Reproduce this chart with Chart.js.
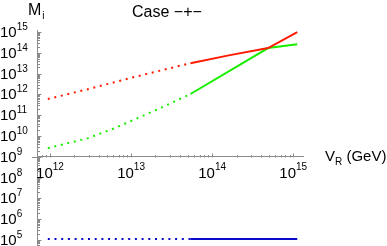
<!DOCTYPE html>
<html>
<head>
<meta charset="utf-8">
<script src="https://cdn.jsdelivr.net/npm/chart.js@4"></script>
<style>
  html, body { margin: 0; padding: 0; background: #fff; }
  .chart { width: 387px; height: 246px; position: relative; }
</style>
</head>
<body>
<div class="chart"><canvas id="c"></canvas></div>
<script>
// values (V_R in GeV, masses in GeV)
const redDotV = [9.4e11, 3.2e12, 1.0e13, 5.4e13];
const redDotM = [6.0e11, 1.95e12, 6.3e12, 3.2e13];
const redSolidV = [5.4e13, 1.66e14, 4.9e14, 1.12e15];
const redSolidM = [3.2e13, 7.8e13, 1.7e14, 1.0e15];

const greenDotV = [9.4e11, 2.95e12, 6.3e12, 2.3e13, 5.4e13];
const greenDotM = [2.6e9, 7.9e9, 2.4e10, 2.2e11, 1.05e12];
const greenSolidV = [5.4e13, 4.9e14, 1.12e15];
const greenSolidM = [1.05e12, 1.7e14, 2.6e14];

const blueDotV = [9.4e11, 5.4e13];
const blueDotM = [1.1e5, 1.1e5];
const blueSolidV = [5.4e13, 1.12e15];
const blueSolidM = [1.1e5, 1.1e5];

// tick labels (powers of ten)
const xTickExps = [12, 13, 14, 15];
const yTickExps = [5, 6, 7, 8, 9, 10, 11, 12, 13, 14, 15];

const FONT = "'Liberation Sans', Arial, Helvetica, sans-serif";
const AXIS_GRAY = '#8a8a8a';

const pts = (xs, ys) => xs.map((x, i) => ({ x: x, y: ys[i] }));

const line = (xs, ys, color, dotted) => ({
    data: pts(xs, ys),
    borderColor: color,
    borderWidth: 2,
    borderDash: dotted ? [2, 4.7] : [],
    borderCapStyle: 'butt',
    pointRadius: 0,
    tension: 0,
    fill: false
});

// draws tick marks, power-of-ten labels, axis names and the title
const decorations = {
    id: 'decorations',
    afterDraw(chart) {
        const ctx = chart.ctx;
        const xs = chart.scales.x;
        const ys = chart.scales.y;
        const area = chart.chartArea;
        const axisY = Math.round(ys.getPixelForValue(1e9)) + 0.5;
        const axisX = Math.round(area.left) + 0.5;

        ctx.save();
        ctx.strokeStyle = AXIS_GRAY;
        ctx.lineWidth = 1;

        // short stub of the V_R axis left of the M axis
        ctx.beginPath();
        ctx.moveTo(32, axisY);
        ctx.lineTo(axisX, axisY);
        ctx.stroke();

        // y minor/major ticks, pointing right
        for (let e = 4; e <= 15; e++) {
            for (let m = 1; m <= 9; m++) {
                const v = m * Math.pow(10, e);
                if (v < ys.min || v > ys.max) continue;
                const py = Math.round(ys.getPixelForValue(v)) + 0.5;
                ctx.beginPath();
                ctx.moveTo(axisX, py);
                ctx.lineTo(axisX + (m === 1 ? 4 : 2.5), py);
                ctx.stroke();
            }
        }
        // x minor/major ticks, pointing up
        for (let e = 11; e <= 15; e++) {
            for (let m = 1; m <= 9; m++) {
                const v = m * Math.pow(10, e);
                if (v < xs.min || v > xs.max) continue;
                const px = Math.round(xs.getPixelForValue(v)) + 0.5;
                ctx.beginPath();
                ctx.moveTo(px, axisY);
                ctx.lineTo(px, axisY - (m === 1 ? 4 : 2.5));
                ctx.stroke();
            }
        }

        ctx.fillStyle = '#000';
        ctx.textBaseline = 'alphabetic';
        ctx.textAlign = 'left';

        const big = '15px ' + FONT;
        const name = '16px ' + FONT;
        const small = '10px ' + FONT;

        // y labels, left aligned at the canvas edge
        yTickExps.forEach(e => {
            const py = ys.getPixelForValue(Math.pow(10, e));
            ctx.font = big;
            ctx.fillText('10', 0, py + 5);
            const w = ctx.measureText('10').width;
            ctx.font = small;
            ctx.fillText(String(e), w, py - 2);
        });

        // x labels, centered under the tick, below the crossing axis
        xTickExps.forEach(e => {
            const px = xs.getPixelForValue(Math.pow(10, e));
            ctx.font = big;
            const w1 = ctx.measureText('10').width;
            ctx.font = small;
            const w2 = ctx.measureText(String(e)).width;
            const x0 = px - (w1 + w2) / 2;
            ctx.font = big;
            ctx.fillText('10', x0, axisY + 20);
            ctx.font = small;
            ctx.fillText(String(e), x0 + w1, axisY + 12);
        });

        // axis names
        ctx.font = name;
        ctx.fillText('M', 28, 15);
        let w = ctx.measureText('M').width;
        ctx.font = small;
        ctx.fillText('i', 28 + w + 1, 19);

        ctx.font = big;
        ctx.fillText('V', 325, axisY + 3);
        w = ctx.measureText('V').width;
        ctx.font = small;
        ctx.fillText('R', 325 + w, axisY + 7);
        const wr = ctx.measureText('R').width;
        ctx.font = big;
        ctx.fillText(' (GeV)', 325 + w + wr, axisY + 3);

        // title
        ctx.font = name;
        ctx.fillText('Case \u2212+\u2212', 132, 17);

        ctx.restore();
    }
};

new Chart(document.getElementById('c').getContext('2d'), {
    type: 'line',
    data: {
        datasets: [
            line(redDotV, redDotM, '#ff1a00', true),
            line(redSolidV, redSolidM, '#ff1a00', false),
            line(greenDotV, greenDotM, '#1aee00', true),
            line(greenSolidV, greenSolidM, '#1aee00', false),
            line(blueDotV, blueDotM, '#0a0acc', true),
            line(blueSolidV, blueSolidM, '#0a0acc', false)
        ]
    },
    options: {
        responsive: true,
        maintainAspectRatio: false,
        animation: false,
        layout: { padding: { top: 30, right: 84, bottom: 0, left: 0 } },
        plugins: {
            legend: { display: false },
            title: { display: false },
            tooltip: { enabled: false }
        },
        scales: {
            x: {
                type: 'logarithmic',
                position: { y: 1e9 },
                min: Math.pow(10, 11.84),
                max: Math.pow(10, 15.12),
                grid: { display: true, drawOnChartArea: false, drawTicks: false },
                border: { display: true, color: AXIS_GRAY, width: 1 },
                ticks: { display: false }
            },
            y: {
                type: 'logarithmic',
                position: 'left',
                min: Math.pow(10, 4.71),
                max: Math.pow(10, 15.1),
                grid: { display: true, drawOnChartArea: false, drawTicks: false },
                border: { display: true, color: AXIS_GRAY, width: 1 },
                ticks: { display: false },
                afterFit: scale => { scale.width = 37; }
            }
        }
    },
    plugins: [decorations]
});
</script>
</body>
</html>
